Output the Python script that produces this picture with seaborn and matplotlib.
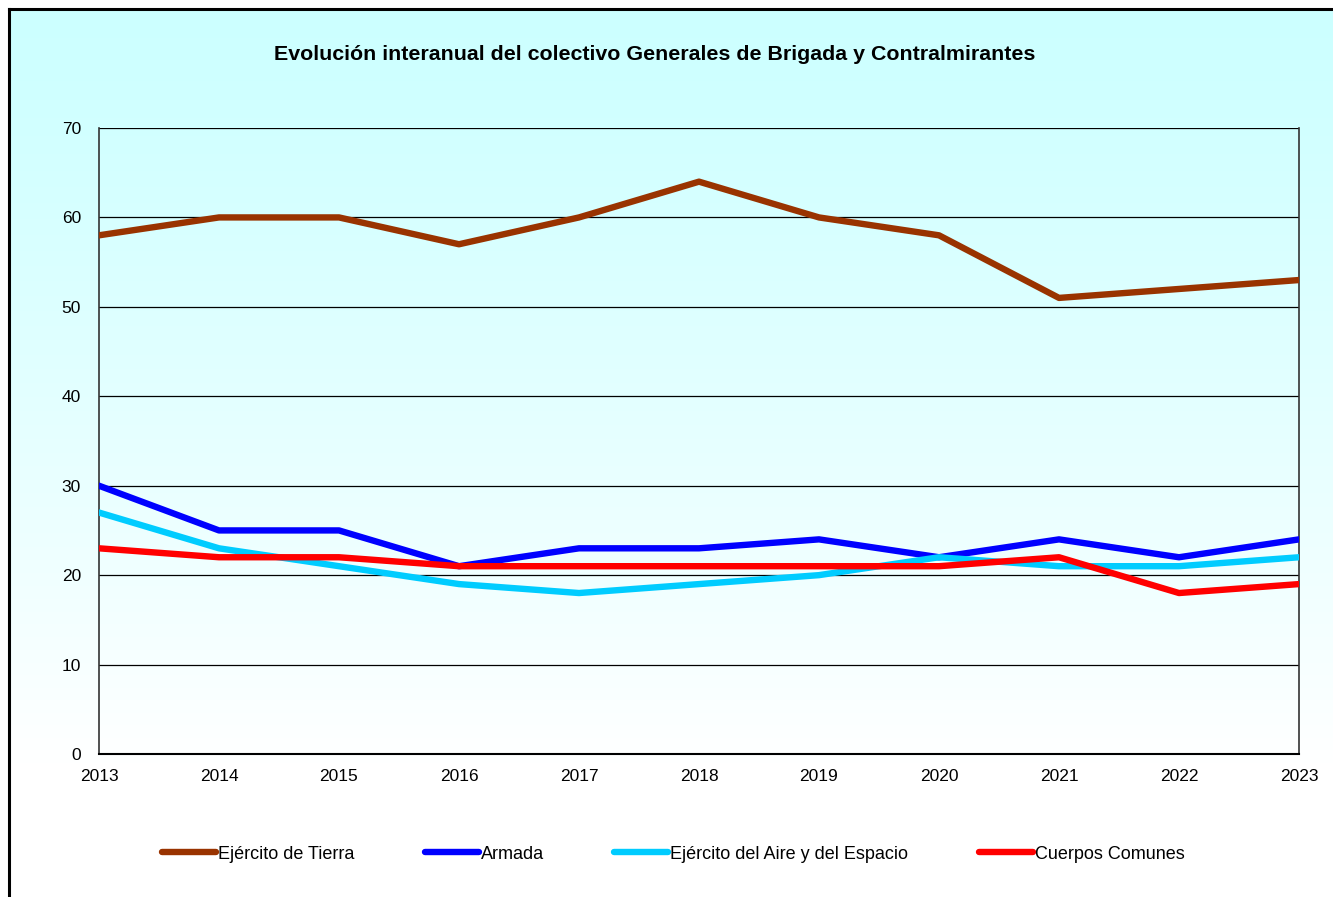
import numpy as np
import pandas as pd
import seaborn as sns
from matplotlib import pyplot as plt
from matplotlib.lines import Line2D

years = [2013, 2014, 2015, 2016, 2017, 2018, 2019, 2020, 2021, 2022, 2023]
tierra = [58, 60, 60, 57, 60, 64, 60, 58, 51, 52, 53]
armada = [30, 25, 25, 21, 23, 23, 24, 22, 24, 22, 24]
aire = [27, 23, 21, 19, 18, 19, 20, 22, 21, 21, 22]
comunes = [23, 22, 22, 21, 21, 21, 21, 21, 22, 18, 19]

series_names = ["Ejército de Tierra", "Armada",
                "Ejército del Aire y del Espacio", "Cuerpos Comunes"]
series_colors = ["#993300", "#0000FF", "#00CCFF", "#FF0000"]
y_ticks = [0, 10, 20, 30, 40, 50, 60, 70]

df = pd.DataFrame({"year": years * 4,
                   "value": tierra + armada + aire + comunes,
                   "serie": sum([[n] * len(years) for n in series_names], [])})

sns.set_style("white")
plt.rcParams['font.family'] = ['Liberation Sans', 'DejaVu Sans']
plt.rcParams['text.color'] = 'black'
plt.rcParams['xtick.labelcolor'] = 'black'
plt.rcParams['ytick.labelcolor'] = 'black'

W, H = 1333, 897
fig = plt.figure(figsize=(W / 100, H / 100), dpi=100)
fig.patch.set_facecolor("white")

# background gradient inside the outer frame
bg = fig.add_axes([9 / W, 0, 1 - 9 / W, 1 - 9 / H], zorder=0)
t = np.linspace(0, 1, 256)[:, None]
grad = np.clip(t / 0.85, 0, 1) ** 1.2
img = np.ones((256, 1, 3))
img[:, :, 0] = 0.80 + 0.20 * grad
bg.imshow(img, aspect="auto", extent=[0, 1, 1, 0], interpolation="bilinear")
bg.set_xlim(0, 1)
bg.set_ylim(1, 0)
bg.set_xticks([])
bg.set_yticks([])
for side in ["right", "bottom"]:
    bg.spines[side].set_visible(False)
for side in ["left", "top"]:
    bg.spines[side].set_linewidth(2.2)
    bg.spines[side].set_color("black")

x0, x1 = 99, 1299
y0, y1 = 128, 754
ax = fig.add_axes([x0 / W, 1 - y1 / H, (x1 - x0) / W, (y1 - y0) / H], zorder=1)
ax.patch.set_alpha(0)

for yv in y_ticks[1:]:
    ax.axhline(yv, color="black", lw=0.9, zorder=1)

sns.lineplot(data=df, x="year", y="value", hue="serie",
             palette=dict(zip(series_names, series_colors)),
             linewidth=4.6, ax=ax, legend=False, zorder=3)

ax.set_xlim(years[0], years[-1])
ax.set_ylim(0, 70)
ax.set_xticks(years)
ax.set_xticklabels([str(y) for y in years], fontsize=12.5)
ax.set_yticks(y_ticks)
ax.set_yticklabels([str(v) for v in y_ticks], fontsize=12.5)
ax.set_xlabel("")
ax.set_ylabel("")
ax.tick_params(axis="y", direction="out", length=7, width=1, color="#333333", pad=6)
ax.tick_params(axis="x", direction="out", length=5, width=1, color="#333333", pad=6)
ax.spines["top"].set_visible(False)
ax.spines["bottom"].set_color("black")
ax.spines["bottom"].set_linewidth(1.5)
for side in ["left", "right"]:
    ax.spines[side].set_color("#333333")
    ax.spines[side].set_linewidth(1.2)

fig.text(655 / W, 1 - 54 / H,
         "Evolución interanual del colectivo Generales de Brigada y Contralmirantes",
         ha="center", va="center", fontsize=15.4, fontweight="bold")

handles = [Line2D([0], [0], color=c, lw=4.6, solid_capstyle="round")
           for c in series_colors]
fig.legend(handles, series_names, loc="center", bbox_to_anchor=(0.505, 1 - 854 / H),
           ncol=4, frameon=False, fontsize=13, handlelength=3.0,
           handletextpad=0.1, columnspacing=3.9)

plt.savefig("out.png", dpi=100)
